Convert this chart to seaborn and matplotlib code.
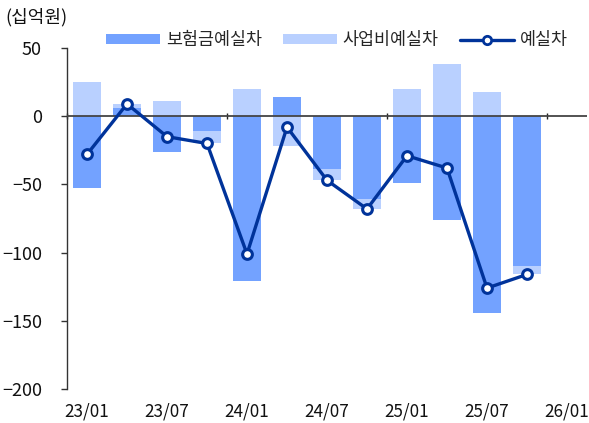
import numpy as np
import matplotlib
matplotlib.use("Agg")
import matplotlib.pyplot as plt
import seaborn as sns
from matplotlib.patches import Patch
from matplotlib.lines import Line2D

periods = ['23/01', '23/04', '23/07', '23/10', '24/01', '24/04', '24/07', '24/10',
           '25/01', '25/04', '25/07', '25/10', '26/01']
claims = [-53, 6, -26, -11, -121, 14, -39, -61, -49, -76, -144, -110]
expense = [25, 3, 11, -9, 20, -22, -8, -7, 20, 38, 18, -6]
total = [-28, 9, -15, -20, -101, -8, -47, -68, -29, -38, -126, -116]
yticks = [50, 0, -50, -100, -150, -200]

sns.set_theme(style="white")
plt.rcParams['font.family'] = ['Liberation Sans Narrow', 'Noto Sans CJK KR', 'DejaVu Sans']
plt.rcParams['axes.unicode_minus'] = True

c_dark = '#73a2ff'
c_light = '#b9d0ff'
c_line = '#00339a'

fig = plt.figure(figsize=(5.89, 4.23), dpi=100)
ax = fig.add_axes([67/589, 1-389/423, 520/589, 341/423])

n = len(claims)
x = np.arange(n)
cl = np.array(claims, float)
ex = np.array(expense, float)
bottom_ex = np.where(np.sign(ex) == np.sign(cl), cl, 0)

w = 0.68
ax.bar(x, cl, width=w, color=c_dark, edgecolor='none', zorder=2)
ax.bar(x, ex, bottom=bottom_ex, width=w, color=c_light, edgecolor='none', zorder=2)
ax.axhline(0, color='#444444', lw=1.3, zorder=3)
sns.lineplot(x=x, y=total, ax=ax, color=c_line, lw=2.4, marker='o', markersize=7,
             markerfacecolor='white', markeredgecolor=c_line, markeredgewidth=2.2, zorder=4)

ymin, ymax = -200, 50
ax.set_ylim(ymin, ymax)
ax.set_xlim(-0.5, len(periods) - 0.5)
ax.set_yticks(yticks)
ax.set_yticklabels([f"{v}".replace('-', '\u2212') for v in yticks])
ax.tick_params(axis='y', length=4, width=1, color='#333333', pad=14, labelsize=13,
               labelcolor='#111111', direction='out', left=True)

lab_pos = np.arange(0, len(periods), 2)
ax.set_xticks(lab_pos)
ax.set_xticklabels([periods[i] for i in lab_pos])
ax.tick_params(axis='x', length=0, pad=10, labelsize=12.3, labelcolor='#111111')

for s in ['top', 'right', 'bottom']:
    ax.spines[s].set_visible(False)
ax.spines['left'].set_color('#333333')
ax.spines['left'].set_linewidth(1)

zloc = (0 - ymin) / (ymax - ymin)
sec = ax.secondary_xaxis(zloc)
sec.set_xticks(np.arange(-0.5, len(periods), 4))
sec.set_xticklabels([])
sec.tick_params(axis='x', length=4, width=1, color='#222222', direction='inout')
for s in sec.spines.values():
    s.set_visible(False)

handles = [Patch(facecolor=c_dark, edgecolor='none'),
           Patch(facecolor=c_light, edgecolor='none'),
           Line2D([], [], color=c_line, lw=2.4, marker='o', markersize=6,
                  markerfacecolor='white', markeredgecolor=c_line, markeredgewidth=2)]
labels = ['보험금예실차', '사업비예실차', '예실차']
fig.legend(handles, labels, loc='center', bbox_to_anchor=(0.572, 0.905), ncol=3,
           frameon=False, prop={'family': ['Noto Sans CJK KR', 'DejaVu Sans'], 'size': 12.5},
           handlelength=3.1, handleheight=0.5, handletextpad=0.35, columnspacing=1.2)

fig.text(5/589, 1-17/423, '(십억원)', ha='left', va='center', fontsize=13,
         family=['Noto Sans CJK KR', 'DejaVu Sans'], color='#111111')

fig.savefig('out.png', dpi=100)
